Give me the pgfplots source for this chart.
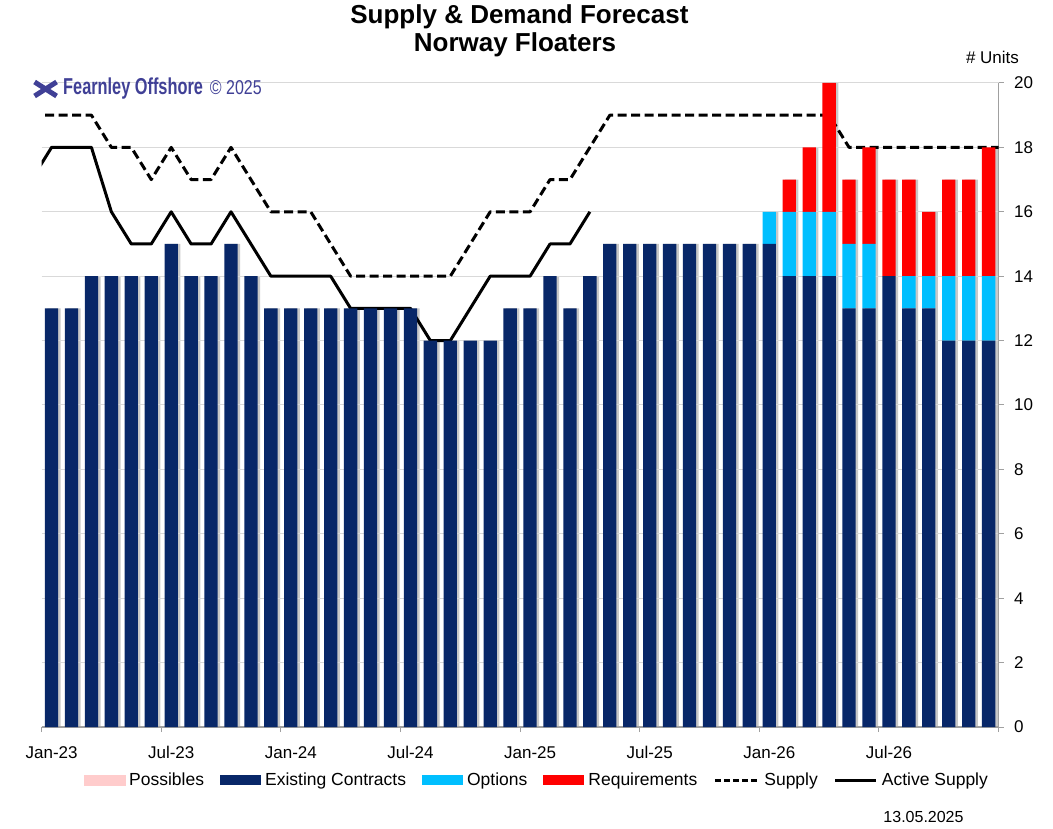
\documentclass[border=0pt]{standalone}
\usepackage{fontspec}
\setmainfont{Liberation Sans}
\usepackage{pgfplots}
\pgfplotsset{compat=1.18}
\usepackage{pgfplotstable}
\definecolor{navy}{RGB}{8,39,104}
\definecolor{optblue}{RGB}{0,191,255}
\definecolor{reqred}{RGB}{255,0,0}
\definecolor{posspink}{RGB}{255,204,204}
\definecolor{wm}{RGB}{64,64,150}
\definecolor{axgray}{RGB}{160,160,160}
\definecolor{gridgray}{RGB}{217,217,217}
\definecolor{shadow}{RGB}{200,200,200}

\pgfplotstableread{
x ex op rq
0 13 0 0
1 13 0 0
2 14 0 0
3 14 0 0
4 14 0 0
5 14 0 0
6 15 0 0
7 14 0 0
8 14 0 0
9 15 0 0
10 14 0 0
11 13 0 0
12 13 0 0
13 13 0 0
14 13 0 0
15 13 0 0
16 13 0 0
17 13 0 0
18 13 0 0
19 12 0 0
20 12 0 0
21 12 0 0
22 12 0 0
23 13 0 0
24 13 0 0
25 14 0 0
26 13 0 0
27 14 0 0
28 15 0 0
29 15 0 0
30 15 0 0
31 15 0 0
32 15 0 0
33 15 0 0
34 15 0 0
35 15 0 0
36 15 1 0
37 14 2 1
38 14 2 2
39 14 2 4
40 13 2 2
41 13 2 3
42 14 0 3
43 13 1 3
44 13 1 2
45 12 2 3
46 12 2 3
47 12 2 4
}\barstab

\pgfplotstableread{
x s
-1 19
0 19
1 19
2 19
3 18
4 18
5 17
6 18
7 17
8 17
9 18
10 17
11 16
12 16
13 16
14 15
15 14
16 14
17 14
18 14
19 14
20 14
21 15
22 16
23 16
24 16
25 17
26 17
27 18
28 19
29 19
30 19
31 19
32 19
33 19
34 19
35 19
36 19
37 19
38 19
39 19
40 18
41 18
42 18
43 18
44 18
45 18
46 18
47 18
48 18
}\supplytab

\pgfplotstableread{
x a
-1 17
0 18
1 18
2 18
3 16
4 15
5 15
6 16
7 15
8 15
9 16
10 15
11 14
12 14
13 14
14 14
15 13
16 13
17 13
18 13
19 12
20 12
21 13
22 14
23 14
24 14
25 15
26 15
27 16
}\activetab

\begin{document}
\begin{tikzpicture}
\useasboundingbox (-41.6pt,-101pt) rectangle (1011.4pt,727pt);
% soft shadow to the right of each bar
\begin{axis}[
  at={(0pt,0pt)}, anchor=south west,
  scale only axis, width=957pt, height=644pt,
  xmin=-0.5, xmax=47.5, ymin=0, ymax=20,
  hide axis, ybar, bar width=13.3pt, bar shift=2.5pt,
]
\addplot[fill=shadow, draw=none] table[x=x, y expr=\thisrow{ex}+\thisrow{op}+\thisrow{rq}]{\barstab};
\end{axis}
\begin{axis}[
  at={(0pt,0pt)}, anchor=south west,
  scale only axis, width=957pt, height=644pt,
  ybar stacked, bar width=13.3pt,
  xmin=-0.5, xmax=47.5, ymin=0, ymax=20,
  axis x line*=bottom, axis y line*=right,
  axis line style={-, draw=axgray, line width=1.2pt},
  tick align=outside, major tick length=5pt,
  tick style={draw=axgray, line width=1pt},
  xtick={-0.5,5.5,...,47.5},
  xticklabels={Jan-23,Jul-23,Jan-24,Jul-24,Jan-25,Jul-25,Jan-26,Jul-26,{}},
  xticklabel style={xshift=10pt, yshift=-11pt},
  yticklabel style={xshift=7pt},
  ytick={0,2,...,20},
  ymajorgrids, grid style={draw=gridgray, line width=1pt},
  tick label style={font=\fontsize{17}{19}\selectfont},
  /pgf/number format/assume math mode=true,
  legend columns=6,
  legend cell align=left,
  legend style={at={(0.5175,-0.0823)}, anchor=center, draw=none, fill=none,
    font=\fontsize{17.5}{19}\selectfont,
    /tikz/every odd column/.append style={column sep=2pt},
    /tikz/every even column/.append style={column sep=14pt}},
  clip=true,
]
\addlegendimage{legend image code/.code={\fill[posspink] (0pt,-5pt) rectangle (41pt,5pt);}}
\addlegendentry{Possibles}
\addplot[fill=navy, draw=none, legend image code/.code={\fill[navy] (0pt,-5pt) rectangle (41pt,5pt);}] table[x=x,y=ex]{\barstab};
\addlegendentry{Existing Contracts}
\addplot[fill=optblue, draw=none, legend image code/.code={\fill[optblue] (0pt,-5pt) rectangle (41pt,5pt);}] table[x=x,y=op]{\barstab};
\addlegendentry{Options}
\addplot[fill=reqred, draw=none, legend image code/.code={\fill[reqred] (0pt,-5pt) rectangle (41pt,5pt);}] table[x=x,y=rq]{\barstab};
\addlegendentry{Requirements}
\addplot[sharp plot, stack plots=false, draw=black, line width=3pt, line join=round, dash pattern=on 9pt off 4.5pt,
  legend image code/.code={\draw[black, line width=3pt, dash pattern=on 6pt off 3pt] (0pt,0pt)--(44pt,0pt);}] table[x=x,y=s]{\supplytab};
\addlegendentry{Supply}
\addplot[sharp plot, stack plots=false, draw=black, line width=3pt, line join=round,
  legend image code/.code={\draw[black, line width=3pt] (0pt,0pt)--(41pt,0pt);}] table[x=x,y=a]{\activetab};
\addlegendentry{Active Supply}
\end{axis}
\node[anchor=base, font=\bfseries\fontsize{26}{30}\selectfont] at (477.8pt,703pt) {Supply \& Demand Forecast};
\node[anchor=base, font=\bfseries\fontsize{26}{30}\selectfont] at (473.4pt,675pt) {Norway Floaters};
\node[anchor=base, font=\fontsize{17}{19}\selectfont] at (950.9pt,663.7pt) {\# Units};
\node[anchor=base, font=\fontsize{16}{18}\selectfont] at (881.9pt,-95pt) {13.05.2025};
\node[anchor=base west, inner sep=0pt, text=wm] at (21.4pt,632pt)
  {\scalebox{0.71}[1]{\bfseries\fontsize{23}{25}\selectfont Fearnley Offshore}\hspace{7pt}\scalebox{0.8}[1]{\fontsize{20}{22}\selectfont © 2025}};
\draw[wm, line width=5pt] (-7pt,631pt)--(15pt,645pt);
\draw[wm, line width=5pt] (-7pt,645pt)--(15pt,631pt);
\end{tikzpicture}
\end{document}
